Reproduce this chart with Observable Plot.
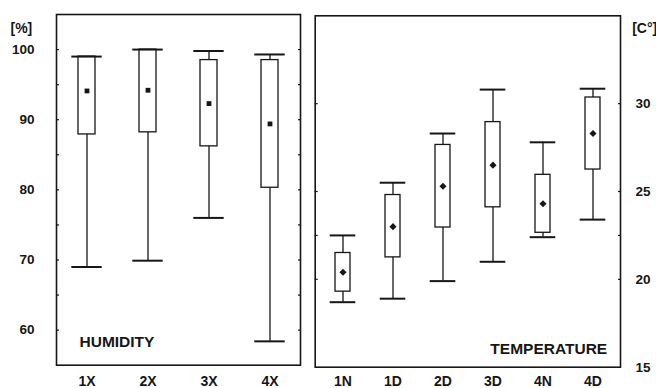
<!DOCTYPE html>
<html>
<head>
<meta charset="utf-8">
<script src="https://cdn.jsdelivr.net/npm/d3@7"></script>
<script src="https://cdn.jsdelivr.net/npm/@observablehq/plot@0.6"></script>
<style>
  body { margin: 0; background: #fff; }
  #wrap { position: relative; width: 656px; height: 388px; overflow: hidden; }
  #wrap svg { position: absolute; top: 0; }
</style>
</head>
<body>
<div id="wrap"></div>
<script>
// Humidity (%)
const humCats = ["1X", "2X", "3X", "4X"];
const humMin  = [69.0, 69.9, 76.0, 58.4];
const humQ1   = [87.9, 88.2, 86.2, 80.3];
const humQ3   = [99.0, 100.0, 98.5, 98.5];
const humMax  = [99.0, 100.0, 99.8, 99.3];
const humMean = [94.1, 94.2, 92.3, 89.4];
const humTicks = [60, 70, 80, 90, 100];
const humMinor = [60, 65, 70, 75, 80, 85, 90, 95, 100];

// Temperature (°C)
const tempCats = ["1N", "1D", "2D", "3D", "4N", "4D"];
const tempMin  = [18.7, 18.9, 19.9, 21.0, 22.4, 23.4];
const tempQ1   = [19.3, 21.25, 22.95, 24.1, 22.65, 26.25];
const tempQ3   = [21.5, 24.8, 27.65, 28.95, 25.95, 30.35];
const tempMax  = [22.5, 25.5, 28.3, 30.8, 27.8, 30.85];
const tempMean = [20.4, 23.0, 25.3, 26.5, 24.3, 28.3];
const tempTicks = [15, 20, 25, 30];
const tempMinor = [20, 22.5, 25, 30];

const ink = "#161616";
const font = "'Liberation Sans', Arial, Helvetica, sans-serif";

function rows(cats, mn, q1, q3, mx, mean) {
  return cats.map((c, i) => ({cat: c, min: mn[i], q1: q1[i], q3: q3[i], max: mx[i], mean: mean[i]}));
}

function panel(o) {
  const data = rows(o.cats, o.mn, o.q1, o.q3, o.mx, o.mean);
  const side = o.axisSide;
  return Plot.plot({
    width: o.width,
    height: 388,
    marginLeft: o.ml, marginRight: o.mr, marginTop: o.mt, marginBottom: o.mb,
    style: {fontFamily: font, fontWeight: "bold", color: ink, background: "transparent", left: o.left + "px"},
    x: {type: "band", domain: o.cats, paddingInner: o.pi, paddingOuter: o.po, axis: null},
    y: {domain: o.ydomain, axis: null},
    marks: [
      Plot.frame({stroke: ink, strokeWidth: 1.6}),
      Plot.axisY({anchor: "left", ticks: o.minor, tickSize: -3, tickFormat: () => "", strokeWidth: 1.2}),
      Plot.axisY({anchor: "right", ticks: o.minor, tickSize: -3, tickFormat: () => "", strokeWidth: 1.2}),
      Plot.axisY({anchor: side, ticks: o.ticks, tickSize: 0, tickPadding: o.tp, fontSize: 13.5, label: null}),
      Plot.axisX({tickSize: 0, tickPadding: o.xp, fontSize: 14, label: null}),
      Plot.ruleX(data, {x: "cat", y1: "min", y2: "max", stroke: ink, strokeWidth: 1.3}),
      Plot.barY(data, {x: "cat", y1: "q1", y2: "q3", fill: "white", stroke: ink, strokeWidth: 1.3}),
      Plot.tickY(data, {x: "cat", y: "max", stroke: ink, strokeWidth: 2, insetLeft: -o.capExt, insetRight: -o.capExt}),
      Plot.tickY(data, {x: "cat", y: "min", stroke: ink, strokeWidth: 2, insetLeft: -o.capExt, insetRight: -o.capExt}),
      Plot.dot(data, {x: "cat", y: "mean", symbol: o.symbol, r: o.r, fill: ink, stroke: "none"}),
      Plot.text([o.name], {frameAnchor: o.nameAnchor, textAnchor: o.nameText, lineAnchor: "bottom", dx: o.ndx, dy: o.ndy, fontSize: 15.5, fill: ink}),
      Plot.text([o.unit], {frameAnchor: o.unitAnchor, textAnchor: "start", lineAnchor: "bottom", dx: o.udx, dy: o.udy, fontSize: 14, fill: ink})
    ]
  });
}

const wrap = document.getElementById("wrap");

wrap.appendChild(panel({
  cats: humCats, mn: humMin, q1: humQ1, q3: humQ3, mx: humMax, mean: humMean,
  width: 310, left: 0, ml: 56, mr: 10, mt: 14, mb: 23.3,
  pi: 0.72, po: 0.35, ydomain: [55, 105], ticks: humTicks, minor: humMinor,
  axisSide: "left", tp: 22, xp: 10.5, capExt: 6.7, symbol: "square", r: 2.7,
  name: "HUMIDITY", nameAnchor: "bottom-left", nameText: "start", ndx: 23, ndy: -18,
  unit: "[%]", unitAnchor: "top-left", udx: -46, udy: 18
}));

wrap.appendChild(panel({
  cats: tempCats, mn: tempMin, q1: tempQ1, q3: tempQ3, mx: tempMax, mean: tempMean,
  width: 346, left: 310, ml: 4.7, mr: 36, mt: 15.3, mb: 21.3,
  pi: 0.70, po: 0.346, ydomain: [15, 35], ticks: tempTicks, minor: tempMinor,
  axisSide: "right", tp: 15, xp: 8.5, capExt: 5.3, symbol: "diamond2", r: 3.2,
  name: "TEMPERATURE", nameAnchor: "bottom-right", nameText: "end", ndx: -13.3, ndy: -13.4,
  unit: "[C°]", unitAnchor: "top-right", udx: 11.7, udy: 16.7
}));
</script>
</body>
</html>
